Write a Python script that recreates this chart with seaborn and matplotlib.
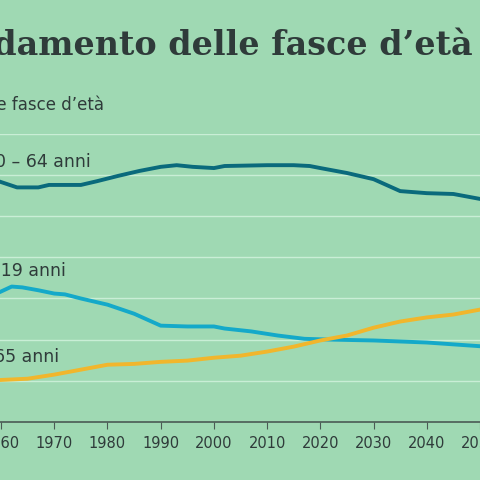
import numpy as np
import pandas as pd
import matplotlib
matplotlib.use("Agg")
import matplotlib.pyplot as plt
import seaborn as sns

# values (share of population, %)
years_a = [1960, 1963, 1967, 1969, 1975, 1978, 1982, 1986, 1990, 1993, 1996, 2000, 2002, 2010, 2015, 2018, 2020, 2025, 2030, 2035, 2040, 2045, 2050]
age_20_64 = [58.3, 57.0, 57.0, 57.6, 57.6, 58.5, 59.8, 61.0, 62.0, 62.4, 62.0, 61.7, 62.2, 62.4, 62.4, 62.2, 61.7, 60.5, 59.0, 56.1, 55.6, 55.4, 54.2]

years_b = [1960, 1962, 1964, 1967, 1970, 1972, 1975, 1980, 1985, 1990, 1995, 2000, 2002, 2007, 2012, 2017, 2022, 2030, 2040, 2050]
age_0_19 = [31.7, 32.9, 32.7, 32.0, 31.2, 31.0, 30.0, 28.5, 26.3, 23.4, 23.2, 23.2, 22.7, 22.0, 21.0, 20.2, 20.0, 19.8, 19.3, 18.4]

years_c = [1960, 1965, 1970, 1975, 1980, 1985, 1990, 1995, 2000, 2005, 2010, 2015, 2020, 2025, 2030, 2035, 2040, 2045, 2050]
age_65 = [10.2, 10.5, 11.5, 12.7, 13.9, 14.1, 14.6, 14.9, 15.6, 16.1, 17.1, 18.3, 19.8, 21.0, 22.9, 24.4, 25.4, 26.1, 27.3]

series = {"20 – 64 anni": (years_a, age_20_64),
          "0 – 19 anni": (years_b, age_0_19),
          "≥ 65 anni": (years_c, age_65)}
colors = {"20 – 64 anni": "#0a6a7c", "0 – 19 anni": "#14a9c9", "≥ 65 anni": "#f1b62c"}

df = pd.concat([pd.DataFrame({"anno": x, "quota": v, "fascia": k}) for k, (x, v) in series.items()])

bg = "#9fd9b3"
ink = "#2f3b3a"

fig = plt.figure(figsize=(4.8, 4.8), dpi=100, facecolor=bg)
ax = fig.add_axes([0, 0.121, 1, 0.6])
ax.set_facecolor(bg)

sns.lineplot(data=df, x="anno", y="quota", hue="fascia", palette=colors, linewidth=2.8, legend=False, ax=ax)

ax.set_xlim(1959.8, 2049.3)
ax.set_ylim(0, 70)
ax.set_yticks(range(10, 71, 10))
ax.grid(axis="y", color="#c9eed6", linewidth=1)
ax.set_axisbelow(True)
for s in ["top", "right", "left"]:
    ax.spines[s].set_visible(False)
ax.spines["bottom"].set_color("#4a5a55")
ax.spines["bottom"].set_linewidth(1.2)
ax.set_xticks(range(1960, 2051, 10))
ax.tick_params(axis="x", direction="out", length=5, color="#4a5a55", labelsize=10.5, labelcolor=ink, pad=5)
ax.tick_params(axis="y", left=False, labelleft=False)
ax.set_xlabel("")
ax.set_ylabel("")

# series labels (the reference is cropped at the left edge)
ax.text(1976.8, 61.0, "20 – 64 anni", ha="right", va="bottom", fontsize=12.5, color=ink)
ax.text(1972.2, 34.5, "0 – 19 anni", ha="right", va="bottom", fontsize=12.5, color=ink)
ax.text(1971.0, 13.5, "≥ 65 anni", ha="right", va="bottom", fontsize=12.5, color=ink)

fig.text(0.985, 0.905, "L’andamento delle fasce d’età", ha="right", va="center",
         fontsize=24, fontweight="bold", family="DejaVu Serif", color=ink)
fig.text(0.217, 0.782, "Quota della popolazione nelle fasce d’età", ha="right", va="center",
         fontsize=12, color=ink)

fig.savefig("out.png", dpi=100, facecolor=bg)
